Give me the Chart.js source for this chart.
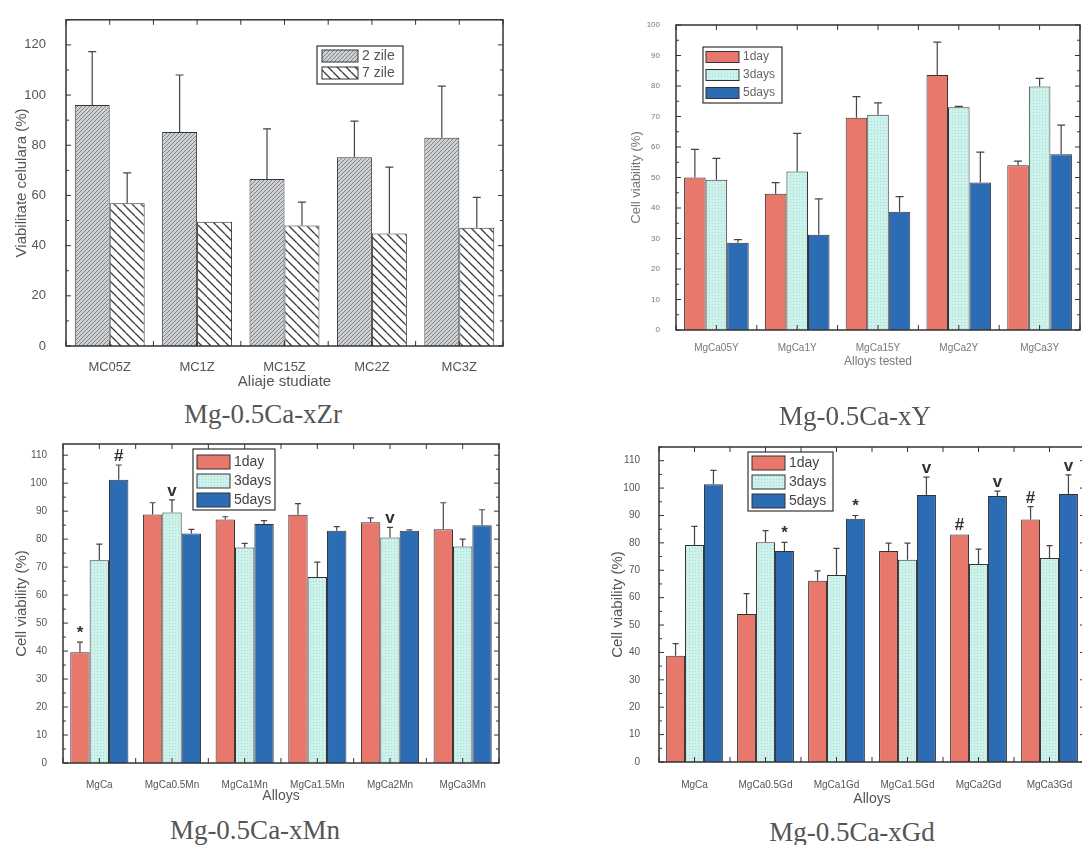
<!DOCTYPE html>
<html>
<head>
<meta charset="utf-8">
<script src="https://cdn.jsdelivr.net/npm/chart.js@4.4.1/dist/chart.umd.min.js"></script>
<style>
html, body { margin: 0; padding: 0; width: 1082px; height: 845px; overflow: hidden; background: #fff; }
canvas { position: absolute; }
.caption { position: absolute; transform: translate(-50%, -50%); white-space: nowrap;
  font-family: 'Liberation Serif', 'Times New Roman', serif; font-size: 27px; color: #555; }
</style>
</head>
<body>
<canvas id="zr" width="520" height="395" style="left:0;top:0"></canvas>
<canvas id="yt" width="482" height="372" style="left:600px;top:0"></canvas>
<canvas id="mn" width="510" height="380" style="left:0;top:430px"></canvas>
<canvas id="gd" width="520" height="385" style="left:580px;top:430px"></canvas>
<div class="caption" style="left:263px;top:414px">Mg-0.5Ca-xZr</div>
<div class="caption" style="left:855px;top:416px">Mg-0.5Ca-xY</div>
<div class="caption" style="left:255px;top:830px">Mg-0.5Ca-xMn</div>
<div class="caption" style="left:852px;top:832px">Mg-0.5Ca-xGd</div>
<script>
Chart.defaults.font.family = "'Liberation Sans', Arial, sans-serif"
Chart.defaults.color = '#555'

// Mg-0.5Ca-xZr
const zrAlloys = ['MC05Z', 'MC1Z', 'MC15Z', 'MC2Z', 'MC3Z']
const zrTicks = [0, 20, 40, 60, 80, 100, 120]
const zr2zile = [96, 85.3, 66.6, 75.2, 83]
const zr2zileErr = [21.3, 22.7, 19.9, 14.4, 20.6]
const zr7zile = [56.9, 49.5, 48, 44.8, 47.1]
const zr7zileErr = [12.1, 0, 9.3, 26.5, 12.1]

// Mg-0.5Ca-xY
const yAlloys = ['MgCa05Y', 'MgCa1Y', 'MgCa15Y', 'MgCa2Y', 'MgCa3Y']
const yTicks = [0, 10, 20, 30, 40, 50, 60, 70, 80, 90, 100]
const y1day = [50, 44.7, 69.6, 83.6, 54]
const y1dayErr = [9.2, 3.6, 6.9, 10.8, 1.4]
const y3days = [49.3, 52, 70.6, 73, 79.8]
const y3daysErr = [7, 12.5, 3.9, 0.3, 2.7]
const y5days = [28.6, 31.2, 38.8, 48.4, 57.6]
const y5daysErr = [1, 11.8, 4.9, 9.9, 9.6]

// Mg-0.5Ca-xMn
const mnAlloys = ['MgCa', 'MgCa0.5Mn', 'MgCa1Mn', 'MgCa1.5Mn', 'MgCa2Mn', 'MgCa3Mn']
const mnTicks = [0, 10, 20, 30, 40, 50, 60, 70, 80, 90, 100, 110]
const mn1day = [39.6, 88.8, 87, 88.7, 86, 83.5]
const mn1dayErr = [3.6, 4.2, 1, 4, 1.6, 9.5]
const mn3days = [72.5, 89.5, 77, 66.5, 80.6, 77.4]
const mn3daysErr = [5.7, 4.5, 1.5, 5.3, 3.6, 2.6]
const mn5days = [101.2, 82, 85.4, 83, 83, 85]
const mn5daysErr = [5.3, 1.5, 1.2, 1.5, 0.3, 5.5]
const mn1dayMarks = ['*', '', '', '', '', '']
const mn3daysMarks = ['', 'v', '', '', 'v', '']
const mn5daysMarks = ['#', '', '', '', '', '']

// Mg-0.5Ca-xGd
const gdAlloys = ['MgCa', 'MgCa0.5Gd', 'MgCa1Gd', 'MgCa1.5Gd', 'MgCa2Gd', 'MgCa3Gd']
const gdTicks = [0, 10, 20, 30, 40, 50, 60, 70, 80, 90, 100, 110]
const gd1day = [38.8, 54, 66.2, 77, 83.1, 88.5]
const gd1dayErr = [4.4, 7.5, 3.6, 2.9, 0, 4.7]
const gd3days = [79.2, 80.2, 68.3, 73.8, 72.3, 74.5]
const gd3daysErr = [6.8, 4.3, 9.7, 6.1, 5.4, 4.5]
const gd5days = [101.4, 77, 88.8, 97.5, 97.1, 97.8]
const gd5daysErr = [5.1, 3.2, 1.2, 6.5, 1.8, 7]
const gd1dayMarks = ['', '', '', '', '#', '#']
const gd5daysMarks = ['', '*', '*', 'v', 'v', 'v']

// fills
function hatch(size, bg, fg, lw, up) {
	const c = document.createElement('canvas')
	c.width = c.height = size
	const g = c.getContext('2d')
	g.fillStyle = bg
	g.fillRect(0, 0, size, size)
	g.strokeStyle = fg
	g.lineWidth = lw
	g.beginPath()
	for (let k = -1; k <= 1; k++) {
		if (up) { g.moveTo(k * size, size); g.lineTo(k * size + size, 0) }
		else { g.moveTo(k * size, 0); g.lineTo(k * size + size, size) }
	}
	g.stroke()
	return g.createPattern(c, 'repeat')
}
function dots(bg, fg) {
	const c = document.createElement('canvas')
	c.width = c.height = 3
	const g = c.getContext('2d')
	g.fillStyle = bg
	g.fillRect(0, 0, 3, 3)
	g.fillStyle = fg
	g.fillRect(1, 1, 1, 1)
	return g.createPattern(c, 'repeat')
}
const fill2zile = hatch(4, '#cdd1d4', '#7f8387', 1, true)
const fill7zile = hatch(9, '#ffffff', '#3a3a3a', 1.3, false)
const red = '#e8776c'
const cyan = dots('#cdf1eb', '#a8dad3')
const blue = '#2c6cb5'

// plugins
const errorBars = {
	id: 'errorBars',
	afterDatasetsDraw(chart, args, o) {
		const ctx = chart.ctx, y = chart.scales.y
		chart.data.datasets.forEach((ds, d) => {
			chart.getDatasetMeta(d).data.forEach((bar, i) => {
				const e = ds.errors[i]
				if (!e) return
				const top = y.getPixelForValue(ds.data[i] + e)
				ctx.save()
				ctx.strokeStyle = o.color
				ctx.lineWidth = o.width
				ctx.beginPath()
				ctx.moveTo(bar.x, bar.y)
				ctx.lineTo(bar.x, top)
				ctx.moveTo(bar.x - o.cap, top)
				ctx.lineTo(bar.x + o.cap, top)
				ctx.stroke()
				ctx.restore()
			})
		})
	}
}

const marks = {
	id: 'marks',
	afterDatasetsDraw(chart, args, o) {
		const ctx = chart.ctx, y = chart.scales.y
		ctx.save()
		ctx.font = o.font
		ctx.fillStyle = o.color
		ctx.textAlign = 'center'
		ctx.textBaseline = 'alphabetic'
		chart.data.datasets.forEach((ds, d) => {
			if (!ds.marks) return
			chart.getDatasetMeta(d).data.forEach((bar, i) => {
				if (!ds.marks[i]) return
				const top = y.getPixelForValue(ds.data[i] + (ds.errors[i] || 0))
				ctx.fillText(ds.marks[i], bar.x, top - 4)
			})
		})
		ctx.restore()
	}
}

const frame = {
	id: 'frame',
	afterDraw(chart, args, o) {
		const {ctx, chartArea: a, scales: {x, y}} = chart
		ctx.save()
		ctx.strokeStyle = o.color
		ctx.lineWidth = o.width
		ctx.strokeRect(a.left, a.top, a.right - a.left, a.bottom - a.top)
		ctx.lineWidth = 1
		ctx.beginPath()
		const vals = y.ticks.map(t => t.value)
		const step = vals[1] - vals[0]
		vals.forEach(v => {
			[[v, o.major], [v + step / 2, o.minor]].forEach(([val, len]) => {
				if (val > y.max) return
				const py = y.getPixelForValue(val)
				ctx.moveTo(a.left, py); ctx.lineTo(a.left + len, py)
				ctx.moveTo(a.right, py); ctx.lineTo(a.right - len, py)
			})
		})
		for (let i = -0.5; i <= x.ticks.length - 0.5; i += 0.5) {
			const px = x.getPixelForValue(i)
			ctx.moveTo(px, a.bottom); ctx.lineTo(px, a.bottom - o.major)
			ctx.moveTo(px, a.top); ctx.lineTo(px, a.top + o.major)
		}
		ctx.stroke()
		ctx.restore()
	}
}

const boxLegend = {
	id: 'boxLegend',
	afterDraw(chart, args, o) {
		const ctx = chart.ctx
		ctx.save()
		ctx.fillStyle = '#fff'
		ctx.fillRect(o.x, o.y, o.w, o.h)
		ctx.strokeStyle = '#333'
		ctx.lineWidth = 1.2
		ctx.strokeRect(o.x, o.y, o.w, o.h)
		ctx.font = o.font
		ctx.textBaseline = 'middle'
		chart.data.datasets.forEach((ds, i) => {
			const cy = o.y + o.cy0 + o.dy * i
			ctx.fillStyle = ds.backgroundColor
			ctx.fillRect(o.x + o.sx, cy - o.sh / 2, o.sw, o.sh)
			ctx.lineWidth = 1
			ctx.strokeRect(o.x + o.sx, cy - o.sh / 2, o.sw, o.sh)
			ctx.fillStyle = o.color
			ctx.fillText(ds.label, o.x + o.sx + o.sw + 4, cy)
		})
		ctx.restore()
	}
}

function panel(id, c) {
	return new Chart(document.getElementById(id), {
		type: 'bar',
		data: {labels: c.labels, datasets: c.datasets},
		options: {
			responsive: false,
			animation: false,
			devicePixelRatio: 1,
			layout: {padding: c.pad},
			datasets: {bar: {categoryPercentage: 0.8, barPercentage: 1, borderColor: '#333', borderWidth: 1}},
			scales: {
				x: {
					grid: {display: false}, border: {display: false},
					ticks: {font: {size: c.xFont}, color: c.color, padding: c.xPad, maxRotation: 0, autoSkip: false},
					title: {display: true, text: c.xTitle, font: {size: c.titleFont}, color: c.color, padding: {top: 0, bottom: c.xTitlePad}},
					afterFit: s => { s.height = c.xH }
				},
				y: {
					min: 0, max: c.yMax,
					grid: {display: false}, border: {display: false},
					ticks: {font: {size: c.yFont}, color: c.color, padding: c.yPad},
					afterBuildTicks: s => { s.ticks = c.yTicks.map(v => ({value: v})) },
					title: {display: true, text: c.yTitle, font: {size: c.yTitleFont}, color: c.color, padding: {top: c.yTitlePad, bottom: 0}},
					afterFit: s => { s.width = c.yW }
				}
			},
			plugins: {
				legend: {display: false},
				tooltip: {enabled: false},
				errorBars: {color: '#444', width: 1.2, cap: c.cap},
				marks: {font: 'bold 17px Liberation Sans', color: '#333'},
				frame: {color: '#333', width: 1.5, major: 5, minor: 3},
				boxLegend: c.legend
			}
		},
		plugins: [errorBars, marks, frame, boxLegend]
	})
}

panel('zr', {
	labels: zrAlloys,
	datasets: [
		{label: '2 zile', data: zr2zile, errors: zr2zileErr, backgroundColor: fill2zile},
		{label: '7 zile', data: zr7zile, errors: zr7zileErr, backgroundColor: fill7zile}
	],
	pad: {left: 0, top: 12, right: 17, bottom: 0},
	yW: 66, xH: 49, yMax: 130, yTicks: zrTicks,
	color: '#555', xFont: 13, yFont: 13, titleFont: 15, yTitleFont: 15,
	xPad: 6, yPad: 12, xTitlePad: 4, yTitlePad: 13, cap: 4,
	xTitle: 'Aliaje studiate', yTitle: 'Viabilitate celulara (%)',
	legend: {x: 317, y: 46, w: 86, h: 38, sx: 5, sw: 36, sh: 12, cy0: 10, dy: 17, font: '14px Liberation Sans', color: '#555'}
})

panel('yt', {
	labels: yAlloys,
	datasets: [
		{label: '1day', data: y1day, errors: y1dayErr, backgroundColor: red},
		{label: '3days', data: y3days, errors: y3daysErr, backgroundColor: cyan},
		{label: '5days', data: y5days, errors: y5daysErr, backgroundColor: blue}
	],
	pad: {left: 0, top: 25, right: 2, bottom: 0},
	yW: 76, xH: 42, yMax: 100, yTicks: yTicks,
	color: '#777', xFont: 10, yFont: 8, titleFont: 12, yTitleFont: 13,
	xPad: 4, yPad: 8, xTitlePad: 3, yTitlePad: 29, cap: 4,
	xTitle: 'Alloys tested', yTitle: 'Cell viability (%)',
	legend: {x: 103, y: 47, w: 79, h: 56, sx: 3, sw: 33, sh: 11, cy0: 10, dy: 18, font: '12px Liberation Sans', color: '#666'}
})

panel('mn', {
	labels: mnAlloys,
	datasets: [
		{label: '1day', data: mn1day, errors: mn1dayErr, marks: mn1dayMarks, backgroundColor: red},
		{label: '3days', data: mn3days, errors: mn3daysErr, marks: mn3daysMarks, backgroundColor: cyan},
		{label: '5days', data: mn5days, errors: mn5daysErr, marks: mn5daysMarks, backgroundColor: blue}
	],
	pad: {left: 0, top: 10, right: 11, bottom: 0},
	yW: 63, xH: 47, yMax: 114, yTicks: mnTicks,
	color: '#555', xFont: 10, yFont: 10, titleFont: 14, yTitleFont: 15,
	xPad: 8, yPad: 8, xTitlePad: 5, yTitlePad: 13, cap: 3,
	xTitle: 'Alloys', yTitle: 'Cell viability (%)',
	legend: {x: 193, y: 19, w: 82, h: 61, sx: 4, sw: 33, sh: 14, cy0: 13, dy: 19, font: '14px Liberation Sans', color: '#444'}
})

panel('gd', {
	labels: gdAlloys,
	datasets: [
		{label: '1day', data: gd1day, errors: gd1dayErr, marks: gd1dayMarks, backgroundColor: red},
		{label: '3days', data: gd3days, errors: gd3daysErr, backgroundColor: cyan},
		{label: '5days', data: gd5days, errors: gd5daysErr, marks: gd5daysMarks, backgroundColor: blue}
	],
	pad: {left: 0, top: 13, right: 15, bottom: 0},
	yW: 79, xH: 53, yMax: 115, yTicks: gdTicks,
	color: '#555', xFont: 10, yFont: 10, titleFont: 14, yTitleFont: 15,
	xPad: 9, yPad: 11, xTitlePad: 7, yTitlePad: 29, cap: 3,
	xTitle: 'Alloys', yTitle: 'Cell viability (%)',
	legend: {x: 168, y: 22, w: 85, h: 59, sx: 4, sw: 33, sh: 14, cy0: 11, dy: 19, font: '14px Liberation Sans', color: '#444'}
})
</script>
</body>
</html>
